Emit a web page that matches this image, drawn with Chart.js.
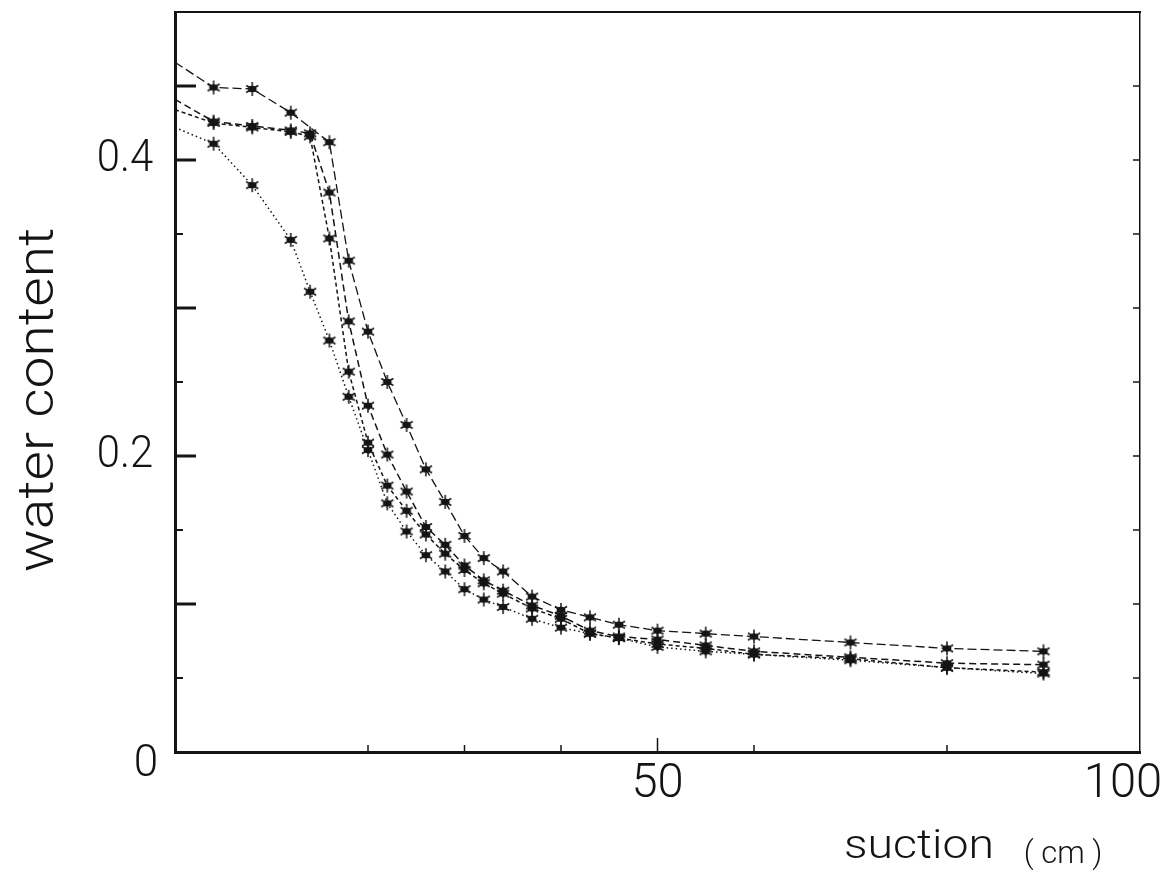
<!DOCTYPE html>
<html>
<head>
<meta charset="utf-8">
<title>water content vs suction</title>
<script src="https://cdn.jsdelivr.net/npm/chart.js@4.4.1/dist/chart.umd.min.js"></script>
<style>
html, body { margin: 0; padding: 0; background: #fff; }
#wrap { width: 1176px; height: 878px; }
</style>
</head>
<body>
<div id="wrap"><canvas id="curves" width="1176" height="878"></canvas></div>
<script>
// Drainage runs: suction (cm) and water content
const suction1 = [0, 4, 8, 12, 16, 18, 20, 22, 24, 26, 28, 30, 32, 34, 37, 40, 43, 46, 50, 55, 60, 70, 80, 90];
const water1   = [0.466, 0.449, 0.448, 0.432, 0.412, 0.332, 0.284, 0.250, 0.221, 0.191, 0.169, 0.146, 0.131, 0.122, 0.105, 0.096, 0.091, 0.086, 0.082, 0.080, 0.078, 0.074, 0.070, 0.068];

const suction2 = [0, 4, 8, 12, 14, 16, 18, 20, 22, 24, 26, 28, 30, 32, 34, 37, 40, 43, 46, 50, 55, 60, 70, 80, 90];
const water2   = [0.441, 0.426, 0.423, 0.420, 0.418, 0.378, 0.291, 0.234, 0.201, 0.176, 0.152, 0.140, 0.126, 0.116, 0.109, 0.099, 0.092, 0.082, 0.078, 0.076, 0.072, 0.068, 0.064, 0.060, 0.059];

const suction3 = [0, 4, 8, 12, 14, 16, 18, 20, 22, 24, 26, 28, 30, 32, 34, 37, 40, 43, 46, 50, 55, 60, 70, 80, 90];
const water3   = [0.434, 0.425, 0.422, 0.419, 0.416, 0.347, 0.257, 0.209, 0.180, 0.163, 0.147, 0.134, 0.123, 0.114, 0.107, 0.097, 0.090, 0.080, 0.077, 0.073, 0.070, 0.066, 0.063, 0.057, 0.054];

const suction4 = [0, 4, 8, 12, 14, 16, 18, 20, 22, 24, 26, 28, 30, 32, 34, 37, 40, 43, 46, 50, 55, 60, 70, 80, 90];
const water4   = [0.422, 0.411, 0.383, 0.346, 0.311, 0.278, 0.240, 0.204, 0.168, 0.149, 0.133, 0.122, 0.110, 0.103, 0.098, 0.090, 0.084, 0.080, 0.077, 0.071, 0.068, 0.066, 0.062, 0.057, 0.053];

// axis decoration
const yLabelValues = [0, 0.2, 0.4];
const yLabelText = ['0', '0.2', '0.4'];
const xLabelValues = [50, 100];
const xLabelText = ['50', '100'];
const yLongTicks = [0.1, 0.2, 0.3, 0.4, 0.45];
const yShortTicks = [0.05, 0.15, 0.25, 0.35];
const yRightTicks = [0.05, 0.1, 0.15, 0.2, 0.25, 0.3, 0.35, 0.4, 0.45];
const xTickMarks = [20, 30, 40, 50, 60, 80];

const INK = '#141414';
const FONT = 'Roboto, "Liberation Sans", sans-serif';

function pairs(xs, ys) {
    return xs.map((x, i) => ({ x: x, y: ys[i] }));
}

// asterisk-like plotter marker
function makeStar() {
    const c = document.createElement('canvas');
    c.width = 18;
    c.height = 18;
    const g = c.getContext('2d');
    g.translate(9, 9);
    g.strokeStyle = INK;
    g.lineWidth = 1.5;
    for (let i = 0; i < 6; i++) {
        const a = i * Math.PI / 3 + Math.PI / 2;
        g.beginPath();
        g.moveTo(0, 0);
        g.lineTo(7 * Math.cos(a), 7 * Math.sin(a));
        g.stroke();
    }
    g.fillStyle = INK;
    g.beginPath();
    g.ellipse(0, 0, 4.4, 3.2, 0, 0, Math.PI * 2);
    g.fill();
    return c;
}
const star = makeStar();

function run(xs, ys, dash, width) {
    return {
        data: pairs(xs, ys),
        borderColor: INK,
        borderWidth: width,
        borderDash: dash,
        pointStyle: star,
        pointRadius: (ctx) => (ctx.raw && ctx.raw.x === 0 ? 0 : 8),
        pointHoverRadius: 8,
        tension: 0,
        fill: false
    };
}

function drawText(g, text, x, y, size, sx, rot) {
    g.save();
    g.translate(x, y);
    if (rot) g.rotate(rot);
    g.scale(sx, 1);
    g.font = '300 ' + size + 'px ' + FONT;
    g.fillStyle = INK;
    g.textAlign = 'center';
    g.textBaseline = 'middle';
    g.fillText(text, 0, 0);
    g.restore();
}

// ticks drawn inward plus hand-placed labels, like the original plotter sheet
const frame = {
    id: 'frame',
    afterDraw(chart) {
        const g = chart.ctx;
        const xs = chart.scales.x;
        const ys = chart.scales.y;
        const a = chart.chartArea;
        g.save();
        g.strokeStyle = INK;
        g.lineCap = 'butt';

        g.lineWidth = 3;
        yLongTicks.forEach(v => {
            const py = ys.getPixelForValue(v);
            g.beginPath(); g.moveTo(a.left, py); g.lineTo(a.left + 21, py); g.stroke();
        });
        g.lineWidth = 2;
        yShortTicks.forEach(v => {
            const py = ys.getPixelForValue(v);
            g.beginPath(); g.moveTo(a.left, py); g.lineTo(a.left + 8, py); g.stroke();
        });
        g.lineWidth = 1.5;
        yRightTicks.forEach(v => {
            const py = ys.getPixelForValue(v);
            g.beginPath(); g.moveTo(a.right, py); g.lineTo(a.right - 7, py); g.stroke();
        });
        g.lineWidth = 1.5;
        xTickMarks.forEach(v => {
            const px = xs.getPixelForValue(v);
            const len = v === 50 ? 14 : 7;
            g.beginPath(); g.moveTo(px, a.bottom); g.lineTo(px, a.bottom - len); g.stroke();
        });

        yLabelValues.forEach((v, i) => {
            const py = ys.getPixelForValue(v);
            if (v === 0) drawText(g, yLabelText[i], a.left - 29, py + 13, 44, 1.0);
            else drawText(g, yLabelText[i], a.left - 50, py, 44, 0.95);
        });
        xLabelValues.forEach((v, i) => {
            let px = xs.getPixelForValue(v);
            if (v === 100) px -= 17;
            drawText(g, xLabelText[i], px, a.bottom + 33, 48, 0.98);
        });

        drawText(g, 'water content', 40, 400, 50, 1.14, -Math.PI / 2);
        drawText(g, 'suction', 919, 848, 40, 1.16);
        drawText(g, '( cm )', 1063, 855, 31, 1.0);
        g.restore();
    }
};

const ctx = document.getElementById('curves').getContext('2d');
const chart = new Chart(ctx, {
    type: 'line',
    data: {
        datasets: [
            run(suction1, water1, [9, 4], 1.3),
            run(suction2, water2, [7, 4], 1.5),
            run(suction3, water3, [4, 3], 1.5),
            run(suction4, water4, [1.5, 3], 1.5)
        ]
    },
    options: {
        responsive: false,
        animation: false,
        devicePixelRatio: 1,
        layout: { padding: 0 },
        plugins: {
            legend: { display: false },
            tooltip: { enabled: false }
        },
        scales: {
            x: {
                type: 'linear',
                position: 'bottom',
                min: 0,
                max: 100,
                ticks: { display: false },
                grid: { display: false },
                border: { display: true, color: INK, width: 3 },
                afterFit: (s) => { s.height = 126; }
            },
            x2: {
                type: 'linear',
                position: 'top',
                min: 0,
                max: 100,
                ticks: { display: false },
                grid: { display: false },
                border: { display: true, color: INK, width: 2 },
                afterFit: (s) => { s.height = 12; }
            },
            y: {
                type: 'linear',
                position: 'left',
                min: 0,
                max: 0.5,
                ticks: { display: false },
                grid: { display: false },
                border: { display: true, color: INK, width: 3 },
                afterFit: (s) => { s.width = 175; }
            },
            y2: {
                type: 'linear',
                position: 'right',
                min: 0,
                max: 0.5,
                ticks: { display: false },
                grid: { display: false },
                border: { display: true, color: INK, width: 1.5 },
                afterFit: (s) => { s.width = 36; }
            }
        }
    },
    plugins: [frame]
});
</script>
</body>
</html>
